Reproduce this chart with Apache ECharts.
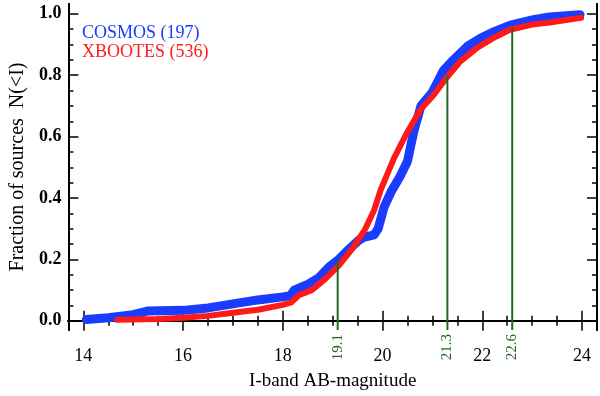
<!DOCTYPE html>
<html>
<head>
<meta charset="utf-8">
<script src="https://cdn.jsdelivr.net/npm/echarts@6/dist/echarts.min.js"></script>
<style>
  html, body { margin: 0; padding: 0; background: #fff; }
  #chart { width: 600px; height: 396px; }
</style>
</head>
<body>
<div id="chart"></div>
<script>
// cumulative fraction N(<I) vs I-band magnitude
var cosmosName = "COSMOS (197)";
var bootesName = "XBOOTES (536)";

var cosmosMag = [14.06, 14.5, 15.0, 15.3, 16.0, 16.5, 17.0, 17.5, 18.0, 18.15, 18.23, 18.52, 18.72, 18.92, 19.12, 19.32, 19.52, 19.62, 19.83, 19.91, 20.03, 20.17, 20.35, 20.5, 20.63, 20.77, 21.0, 21.22, 21.42, 21.7, 21.96, 22.21, 22.55, 23.0, 23.35, 23.96];
var cosmosFrac = [0.004, 0.01, 0.02, 0.032, 0.034, 0.042, 0.055, 0.068, 0.078, 0.082, 0.10, 0.12, 0.14, 0.174, 0.2, 0.232, 0.262, 0.272, 0.28, 0.30, 0.37, 0.42, 0.47, 0.52, 0.62, 0.70, 0.745, 0.815, 0.85, 0.894, 0.92, 0.94, 0.962, 0.98, 0.99, 0.997];

var bootesMag = [14.68, 15.5, 16.0, 16.5, 17.0, 17.5, 18.0, 18.17, 18.32, 18.58, 18.84, 19.12, 19.38, 19.64, 19.83, 19.97, 20.23, 20.5, 20.77, 21.02, 21.3, 21.56, 21.9, 22.21, 22.55, 23.0, 23.35, 23.68, 23.98];
var bootesFrac = [0.003, 0.006, 0.01, 0.016, 0.026, 0.036, 0.052, 0.06, 0.083, 0.1, 0.135, 0.18, 0.232, 0.295, 0.36, 0.43, 0.53, 0.616, 0.69, 0.735, 0.795, 0.845, 0.89, 0.92, 0.948, 0.965, 0.972, 0.98, 0.987];

// green markers: magnitude and the fraction where each line stops
var markMag = [19.1, 21.3, 22.6];
var markFrac = [0.197, 0.80, 0.955];

var xMajorTicks = [14, 16, 18, 20, 22, 24];
var xMinorTicks = [14, 14.5, 15, 15.5, 16, 16.5, 17, 17.5, 18, 18.5, 19, 19.5, 20, 20.5, 21, 21.5, 22, 22.5, 23, 23.5, 24];
var yMajorTicks = [0, 0.2, 0.4, 0.6, 0.8, 1.0];
var yMinorTicks = [0, 0.05, 0.1, 0.15, 0.2, 0.25, 0.3, 0.35, 0.4, 0.45, 0.5, 0.55, 0.6, 0.65, 0.7, 0.75, 0.8, 0.85, 0.9, 0.95, 1.0];

var xMin = 13.7, xMax = 24.3, yMin = -0.03, yMax = 1.032;
var serif = "Liberation Serif";
var green = "#1f6a1f";

function pairs(xs, ys) {
	return xs.map(function (x, i) { return [x, ys[i]]; });
}

function xAxisDef(opts) {
	var base = {
		type: "value", min: xMin, max: xMax,
		position: "bottom",
		axisLine: { show: true, lineStyle: { color: "#000", width: 2 } },
		axisTick: { show: false },
		axisLabel: { show: false },
		splitLine: { show: false },
	};
	return Object.assign(base, opts);
}
function yAxisDef(opts) {
	var base = {
		type: "value", min: yMin, max: yMax,
		position: "left",
		axisLine: { show: true, lineStyle: { color: "#000", width: 2 } },
		axisTick: { show: false },
		axisLabel: { show: false },
		splitLine: { show: false },
	};
	return Object.assign(base, opts);
}
function ticks(values, len) {
	return { show: true, inside: true, length: len, customValues: values, lineStyle: { color: "#000", width: 1.5 } };
}

var series = [
	{
		name: cosmosName, type: "line", xAxisIndex: 0, yAxisIndex: 0,
		data: pairs(cosmosMag, cosmosFrac), showSymbol: false,
		lineStyle: { color: "#1a3cff", width: 9, join: "round", cap: "round" },
		itemStyle: { color: "#1a3cff" },
		z: 2,
	},
	{
		name: bootesName, type: "line", xAxisIndex: 0, yAxisIndex: 0,
		data: pairs(bootesMag, bootesFrac), showSymbol: false,
		lineStyle: { color: "#ff1a1a", width: 6, join: "round", cap: "round" },
		itemStyle: { color: "#ff1a1a" },
		z: 3,
	},
];
markMag.forEach(function (m, i) {
	series.push({
		type: "line", xAxisIndex: 0, yAxisIndex: 0, silent: true,
		data: [[m, yMin], [m, markFrac[i]]], showSymbol: false,
		lineStyle: { color: green, width: 2 },
		z: 4,
	});
});

var chart = echarts.init(document.getElementById("chart"));
chart.setOption({
	animation: false,
	backgroundColor: "#fff",
	grid: { left: 64, right: 3, top: 4, bottom: 63 },
	legend: {
		left: 72, top: 19, orient: "vertical", itemGap: 1,
		icon: "none", itemWidth: 0, itemHeight: 0,
		textStyle: { fontFamily: serif, fontSize: 18 },
		data: [
			{ name: cosmosName, textStyle: { color: "#1a3cff" } },
			{ name: bootesName, textStyle: { color: "#ff1a1a" } },
		],
	},
	xAxis: [
		xAxisDef({
			axisTick: ticks(xMajorTicks, 10),
			axisLabel: { show: true, customValues: xMajorTicks, margin: 17, color: "#000", fontFamily: serif, fontSize: 18 },
			name: "I-band AB-magnitude", nameLocation: "middle", nameGap: 42,
			nameTextStyle: { color: "#000", fontFamily: serif, fontSize: 19 },
		}),
		xAxisDef({ axisTick: ticks(xMinorTicks, 5) }),
		xAxisDef({ position: "top", axisTick: ticks(xMajorTicks, 10) }),
		xAxisDef({ position: "top", axisTick: ticks(xMinorTicks, 5) }),
		xAxisDef({
			axisLine: { show: false },
			axisLabel: { show: true, customValues: markMag, rotate: 90, margin: 4, color: green, fontFamily: serif, fontSize: 15 },
		}),
	],
	yAxis: [
		yAxisDef({
			axisTick: ticks(yMajorTicks, 10),
			axisLabel: {
				show: true, customValues: yMajorTicks, margin: 7, color: "#000",
				fontFamily: serif, fontSize: 18, fontWeight: "bold",
				formatter: function (v) { return v.toFixed(1); },
			},
			name: "Fraction of sources  N(<I)", nameLocation: "middle", nameGap: 39,
			nameTextStyle: { color: "#000", fontFamily: serif, fontSize: 20 },
		}),
		yAxisDef({ axisTick: ticks(yMinorTicks, 5) }),
		yAxisDef({ position: "right", axisTick: ticks(yMajorTicks, 10) }),
		yAxisDef({ position: "right", axisTick: ticks(yMinorTicks, 5) }),
	],
	series: series,
});
</script>
</body>
</html>
